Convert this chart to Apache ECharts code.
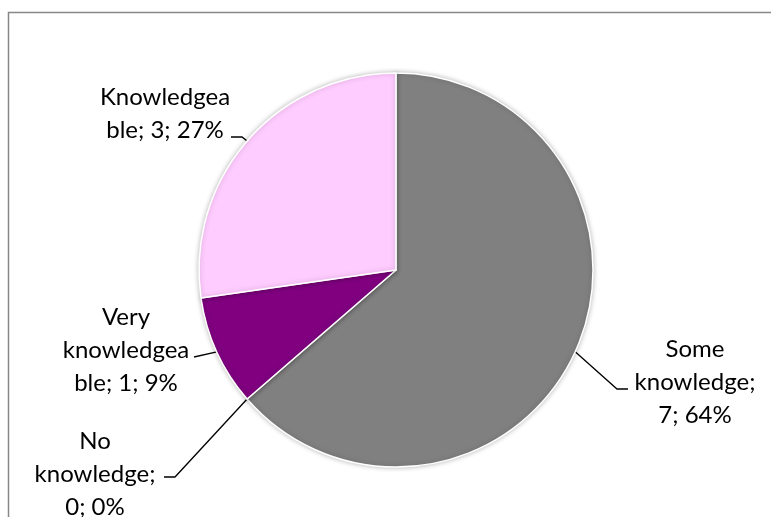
<!DOCTYPE html>
<html>
<head>
<meta charset="utf-8">
<script src="https://cdn.jsdelivr.net/npm/echarts@6/dist/echarts.min.js"></script>
<style>html,body{margin:0;padding:0;background:#fff}#c{width:771px;height:517px}</style>
</head>
<body>
<div id="c"></div>
<script>
// Data (clockwise from 12 o'clock)
const categories = ['Some knowledge', 'No knowledge', 'Very knowledgeable', 'Knowledgeable'];
const values = [7, 0, 1, 3];
const colors = ['#808080', '#7F7F7F', '#800080', '#FFCCFF'];

// Label block positions (center of the text) and leader-line bends
const labelPos = [
  { x: 695, y: 382, bend: [[617, 389], [628, 389]] },
  { x: 95, y: 474, bend: [[175, 477], [164, 477]] },
  { x: 126, y: 350, bend: [[194, 357]] },
  { x: 165, y: 114, bend: [[242, 137], [231, 137]] }
];

function wrap(text, maxChars) {
  const words = text.split(' ');
  const lines = [];
  let cur = '';
  for (let w of words) {
    const cand = cur ? cur + ' ' + w : w;
    if (cand.length <= maxChars) { cur = cand; continue; }
    if (cur) { lines.push(cur); cur = ''; }
    while (w.length > maxChars) { lines.push(w.slice(0, maxChars - 1)); w = w.slice(maxChars - 1); }
    cur = w;
  }
  if (cur) lines.push(cur);
  return lines.join('\n');
}

const chart = echarts.init(document.getElementById('c'), null, { renderer: 'canvas' });
const total = values.reduce((a, b) => a + b, 0);
chart.setOption({
  animation: false,
  backgroundColor: '#fff',
  graphic: [{
    type: 'rect', silent: true, z: -1,
    shape: { x: 8.5, y: 12.5, width: 800, height: 600 },
    style: { fill: 'none', stroke: '#878787', lineWidth: 1.5 }
  }],
  series: [{
    type: 'pie',
    center: [396, 270],
    radius: 197,
    startAngle: 90,
    clockwise: true,
    avoidLabelOverlap: false,
    minShowLabelAngle: -1,
    itemStyle: { borderColor: '#fff', borderWidth: 1.5, shadowBlur: 5, shadowColor: 'rgba(0,0,0,0.25)' },
    label: {
      show: true,
      position: 'outside',
      color: '#000',
      fontFamily: 'Lato',
      fontSize: 24,
      lineHeight: 33,
      align: 'center',
      formatter: p => wrap(`${p.name}; ${p.value}; ${Math.round(p.value / total * 100)}%`, 11)
    },
    labelLine: { show: true, lineStyle: { color: '#000', width: 1.3 }, smooth: false },
    labelLayout: function (params) {
      const lp = labelPos[params.dataIndex];
      const start = params.labelLinePoints ? params.labelLinePoints[0] : lp.bend[0];
      return {
        x: lp.x, y: lp.y, align: 'center', verticalAlign: 'middle',
        labelLinePoints: [start].concat(lp.bend)
      };
    },
    data: categories.map((c, i) => ({ name: c, value: values[i], itemStyle: { color: colors[i] } }))
  }]
});
</script>
</body>
</html>
